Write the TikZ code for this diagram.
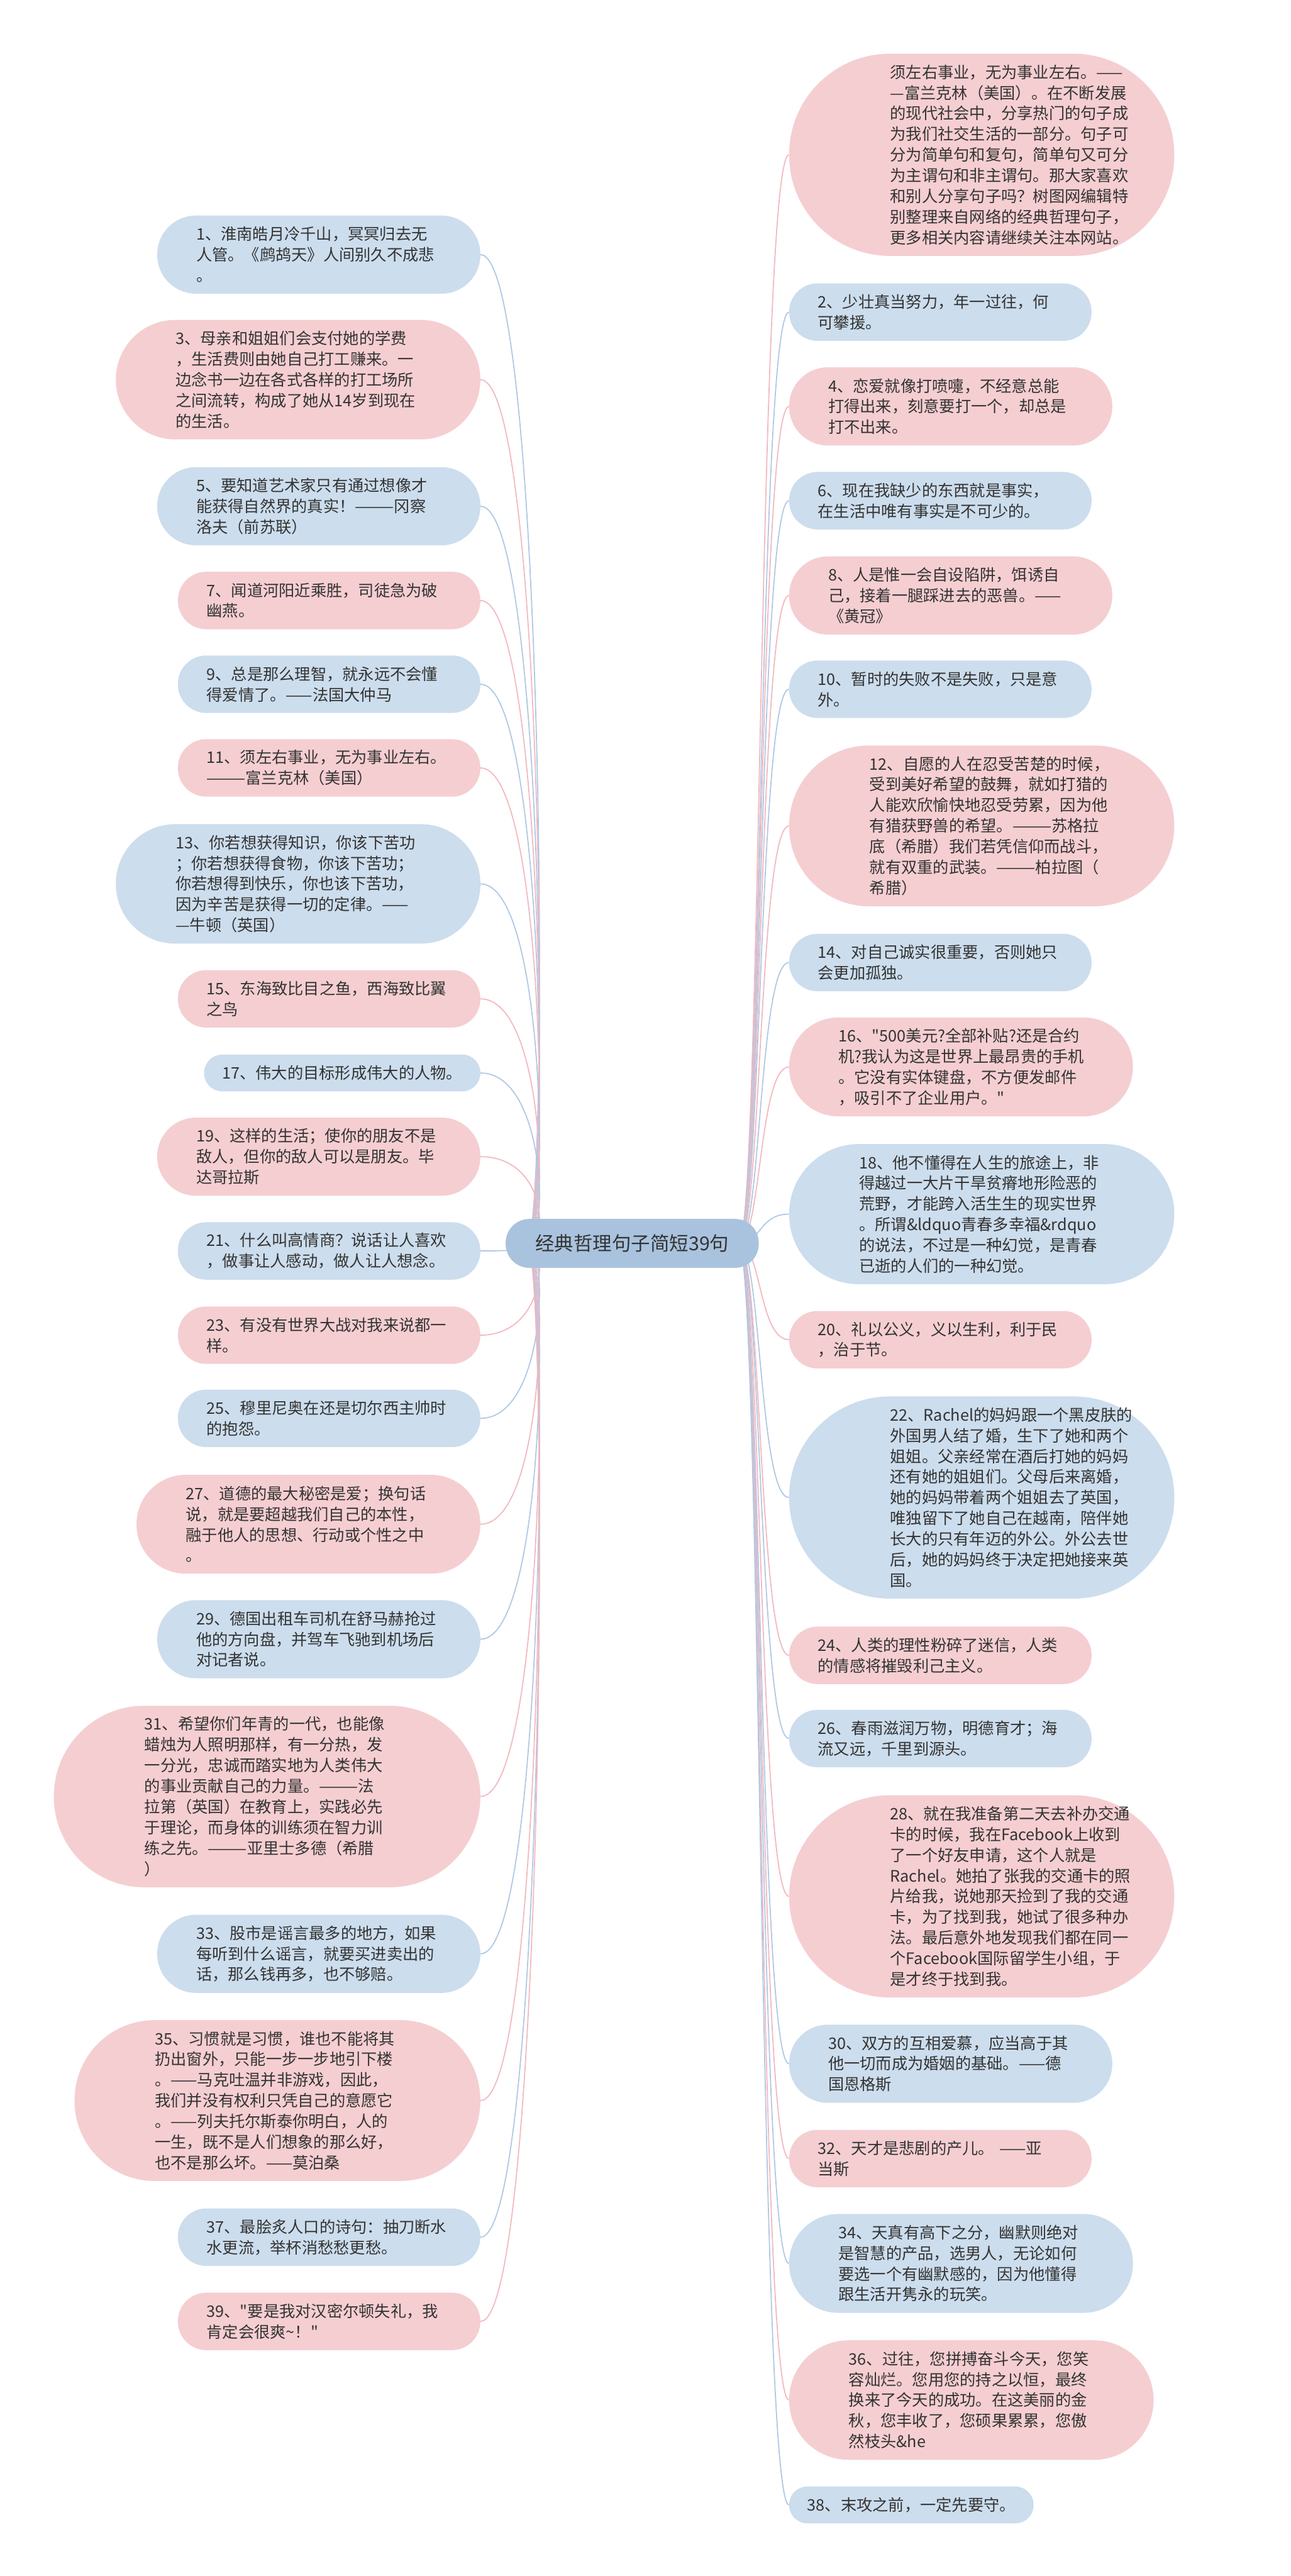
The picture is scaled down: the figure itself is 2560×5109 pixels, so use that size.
\documentclass[tikz,border=0pt]{standalone}
\usepackage{fontspec}
\setmainfont{Noto Sans CJK SC}[Ligatures=TeXOff]
\usetikzlibrary{calc}
\definecolor{pinkf}{HTML}{F5CED1}
\definecolor{bluef}{HTML}{CCDDED}
\definecolor{pinkl}{HTML}{F2B8BF}
\definecolor{bluel}{HTML}{AFC8E3}
\definecolor{centf}{HTML}{A9C3DE}
\definecolor{txt}{HTML}{333333}
\begin{document}
\begin{tikzpicture}[x=1pt,y=-1pt,
  base/.style={rectangle, align=left, text=txt, font=\fontsize{31.5}{41}\selectfont, inner ysep=0pt},
  ln/.style={base, text width=486, minimum height={41*#1+32}, rounded corners={20.5*#1+15.5}, inner xsep={20.5*#1+16}},
  lone/.style={base, minimum height=73, rounded corners=36, inner xsep=36},
  capbox/.style={rectangle, anchor=west, minimum width=764, minimum height={41*#1+32}, rounded corners={20.5*#1+15.5}, inner sep=0pt},
  captext/.style={base, anchor=west, text width=486, inner xsep=0pt},
  pk/.style={fill=pinkf},
  bl/.style={fill=bluef},
  lft/.style={anchor=east},
  rgt/.style={anchor=west},
  cpk/.style={draw=pinkl, line width=2.2pt},
  cbl/.style={draw=bluel, line width=2.2pt}]
\useasboundingbox (0,0) rectangle (2560,5109);
\coordinate (cL) at (1045,2466);
\coordinate (cR) at (1465,2466);
\newcommand\lconn[2]{\draw[#2] (cL) .. controls ($(cL)+(45,0)$) and ($(#1.east)+(130,0)$) .. (#1.east);}
\newcommand\rconn[2]{\draw[#2] (cR) .. controls ($(cR)+(45,0)$) and ($(#1.west)+(-60,0)$) .. (#1.west);}

% ---------- left nodes ----------
\node[ln=3,bl,lft] (L1) at (953,505) {1、淮南皓月冷千山，冥冥归去无\\人管。《鹧鸪天》人间别久不成悲\\。};
\node[ln=5,pk,lft] (L3) at (953,753) {3、母亲和姐姐们会支付她的学费\\，生活费则由她自己打工赚来。一\\边念书一边在各式各样的打工场所\\之间流转，构成了她从14岁到现在\\的生活。};
\node[ln=3,bl,lft] (L5) at (953,1004) {5、要知道艺术家只有通过想像才\\能获得自然界的真实！———冈察\\洛夫（前苏联）};
\node[ln=2,pk,lft] (L7) at (953,1191) {7、闻道河阳近乘胜，司徒急为破\\幽燕。};
\node[ln=2,bl,lft] (L9) at (953,1357) {9、总是那么理智，就永远不会懂\\得爱情了。——法国大仲马};
\node[ln=2,pk,lft] (L11) at (953,1523) {11、须左右事业，无为事业左右。\\———富兰克林（美国）};
\node[ln=5,bl,lft] (L13) at (953,1753) {13、你若想获得知识，你该下苦功\\；你若想获得食物，你该下苦功；\\你若想得到快乐，你也该下苦功，\\因为辛苦是获得一切的定律。——\\—牛顿（英国）};
\node[ln=2,pk,lft] (L15) at (953,1981) {15、东海致比目之鱼，西海致比翼\\之鸟};
\node[lone,bl,lft] (L17) at (953,2128) {17、伟大的目标形成伟大的人物。};
\node[ln=3,pk,lft] (L19) at (953,2294) {19、这样的生活；使你的朋友不是\\敌人，但你的敌人可以是朋友。毕\\达哥拉斯};
\node[ln=2,bl,lft] (L21) at (953,2481) {21、什么叫高情商？说话让人喜欢\\，做事让人感动，做人让人想念。};
\node[ln=2,pk,lft] (L23) at (953,2648) {23、有没有世界大战对我来说都一\\样。};
\node[ln=2,bl,lft] (L25) at (953,2813) {25、穆里尼奥在还是切尔西主帅时\\的抱怨。};
\node[ln=4,pk,lft] (L27) at (953,3023) {27、道德的最大秘密是爱；换句话\\说，就是要超越我们自己的本性，\\融于他人的思想、行动或个性之中\\。};
\node[ln=3,bl,lft] (L29) at (953,3251) {29、德国出租车司机在舒马赫抢过\\他的方向盘，并驾车飞驰到机场后\\对记者说。};
\node[ln=8,pk,lft] (L31) at (953,3563) {31、希望你们年青的一代，也能像\\蜡烛为人照明那样，有一分热，发\\一分光，忠诚而踏实地为人类伟大\\的事业贡献自己的力量。———法\\拉第（英国）在教育上，实践必先\\于理论，而身体的训练须在智力训\\练之先。———亚里士多德（希腊\\）};
\node[ln=3,bl,lft] (L33) at (953,3875) {33、股市是谣言最多的地方，如果\\每听到什么谣言，就要买进卖出的\\话，那么钱再多，也不够赔。};
\node[ln=7,pk,lft] (L35) at (953,4166) {35、习惯就是习惯，谁也不能将其\\扔出窗外，只能一步一步地引下楼\\。——马克吐温并非游戏，因此，\\我们并没有权利只凭自己的意愿它\\。——列夫托尔斯泰你明白，人的\\一生，既不是人们想象的那么好，\\也不是那么坏。——莫泊桑};
\node[ln=2,bl,lft] (L37) at (953,4437) {37、最脍炙人口的诗句：抽刀断水\\水更流，举杯消愁愁更愁。};
\node[ln=2,pk,lft] (L39) at (953,4604) {39、"要是我对汉密尔顿失礼，我\\肯定会很爽\textasciitilde！"};

% ---------- right nodes ----------
\node[capbox=9,pk] (R0) at (1565,307) {};
\node[captext] (R0t) at ($(R0.west)+(200.5,0)$) {须左右事业，无为事业左右。——\\—富兰克林（美国）。在不断发展\\的现代社会中，分享热门的句子成\\为我们社交生活的一部分。句子可\\分为简单句和复句，简单句又可分\\为主谓句和非主谓句。那大家喜欢\\和别人分享句子吗？树图网编辑特\\别整理来自网络的经典哲理句子，\\更多相关内容请继续关注本网站。};
\node[ln=2,bl,rgt] (R2) at (1565,619) {2、少壮真当努力，年一过往，何\\可攀援。};
\node[ln=3,pk,rgt] (R4) at (1565,806) {4、恋爱就像打喷嚏，不经意总能\\打得出来，刻意要打一个，却总是\\打不出来。};
\node[ln=2,bl,rgt] (R6) at (1565,993) {6、现在我缺少的东西就是事实，\\在生活中唯有事实是不可少的。};
\node[ln=3,pk,rgt] (R8) at (1565,1181) {8、人是惟一会自设陷阱，饵诱自\\己，接着一腿踩进去的恶兽。——\\《黄冠》};
\node[ln=2,bl,rgt] (R10) at (1565,1367) {10、暂时的失败不是失败，只是意\\外。};
\node[capbox=7,pk] (R12) at (1565,1638) {};
\node[captext] (R12t) at ($(R12.west)+(159.5,0)$) {12、自愿的人在忍受苦楚的时候，\\受到美好希望的鼓舞，就如打猎的\\人能欢欣愉快地忍受劳累，因为他\\有猎获野兽的希望。———苏格拉\\底（希腊）我们若凭信仰而战斗，\\就有双重的武装。———柏拉图（\\希腊）};
\node[ln=2,bl,rgt] (R14) at (1565,1909) {14、对自己诚实很重要，否则她只\\会更加孤独。};
\node[ln=4,pk,rgt] (R16) at (1565,2116) {16、"500美元?全部补贴?还是合约\\机?我认为这是世界上最昂贵的手机\\。它没有实体键盘，不方便发邮件\\，吸引不了企业用户。"};
\node[ln=6,bl,rgt] (R18) at (1565,2408) {18、他不懂得在人生的旅途上，非\\得越过一大片干旱贫瘠地形险恶的\\荒野，才能跨入活生生的现实世界\\。所谓\&ldquo青春多幸福\&rdquo\\的说法，不过是一种幻觉，是青春\\已逝的人们的一种幻觉。};
\node[ln=2,pk,rgt] (R20) at (1565,2657) {20、礼以公义，义以生利，利于民\\，治于节。};
\node[capbox=9,bl] (R22) at (1565,2970) {};
\node[captext] (R22t) at ($(R22.west)+(200.5,0)$) {22、Rachel的妈妈跟一个黑皮肤的\\外国男人结了婚，生下了她和两个\\姐姐。父亲经常在酒后打她的妈妈\\还有她的姐姐们。父母后来离婚，\\她的妈妈带着两个姐姐去了英国，\\唯独留下了她自己在越南，陪伴她\\长大的只有年迈的外公。外公去世\\后，她的妈妈终于决定把她接来英\\国。};
\node[ln=2,pk,rgt] (R24) at (1565,3283) {24、人类的理性粉碎了迷信，人类\\的情感将摧毁利己主义。};
\node[ln=2,bl,rgt] (R26) at (1565,3448) {26、春雨滋润万物，明德育才；海\\流又远，千里到源头。};
\node[capbox=9,pk] (R28) at (1565,3761) {};
\node[captext] (R28t) at ($(R28.west)+(200.5,0)$) {28、就在我准备第二天去补办交通\\卡的时候，我在Facebook上收到\\了一个好友申请，这个人就是\\Rachel。她拍了张我的交通卡的照\\片给我，说她那天捡到了我的交通\\卡，为了找到我，她试了很多种办\\法。最后意外地发现我们都在同一\\个Facebook国际留学生小组，于\\是才终于找到我。};
\node[ln=3,bl,rgt] (R30) at (1565,4093) {30、双方的互相爱慕，应当高于其\\他一切而成为婚姻的基础。——德\\国恩格斯};
\node[ln=2,pk,rgt] (R32) at (1565,4281) {32、天才是悲剧的产儿。 ——亚\\当斯};
\node[ln=4,bl,rgt] (R34) at (1565,4489) {34、天真有高下之分，幽默则绝对\\是智慧的产品，选男人，无论如何\\要选一个有幽默感的，因为他懂得\\跟生活开隽永的玩笑。};
\node[ln=5,pk,rgt] (R36) at (1565,4760) {36、过往，您拼搏奋斗今天，您笑\\容灿烂。您用您的持之以恒，最终\\换来了今天的成功。在这美丽的金\\秋，您丰收了，您硕果累累，您傲\\然枝头\&he};
\node[lone,bl,rgt] (R38) at (1565,4968) {38、末攻之前，一定先要守。};

% ---------- connectors ----------
\lconn{L1}{cbl}\lconn{L3}{cpk}\lconn{L5}{cbl}\lconn{L7}{cpk}\lconn{L9}{cbl}
\lconn{L11}{cpk}\lconn{L13}{cbl}\lconn{L15}{cpk}\lconn{L17}{cbl}\lconn{L19}{cpk}
\lconn{L21}{cbl}\lconn{L23}{cpk}\lconn{L25}{cbl}\lconn{L27}{cpk}\lconn{L29}{cbl}
\lconn{L31}{cpk}\lconn{L33}{cbl}\lconn{L35}{cpk}\lconn{L37}{cbl}\lconn{L39}{cpk}
\rconn{R0}{cpk}\rconn{R2}{cbl}\rconn{R4}{cpk}\rconn{R6}{cbl}\rconn{R8}{cpk}
\rconn{R10}{cbl}\rconn{R12}{cpk}\rconn{R14}{cbl}\rconn{R16}{cpk}\rconn{R18}{cbl}
\rconn{R20}{cpk}\rconn{R22}{cbl}\rconn{R24}{cpk}\rconn{R26}{cbl}\rconn{R28}{cpk}
\rconn{R30}{cbl}\rconn{R32}{cpk}\rconn{R34}{cbl}\rconn{R36}{cpk}\rconn{R38}{cbl}

% ---------- center ----------
\node[rectangle, fill=centf, text=txt, font=\fontsize{38}{46}\selectfont, minimum width=502, minimum height=97, rounded corners=47, inner xsep=0pt] (C) at (1254,2466) {经典哲理句子简短39句};
\end{tikzpicture}
\end{document}
